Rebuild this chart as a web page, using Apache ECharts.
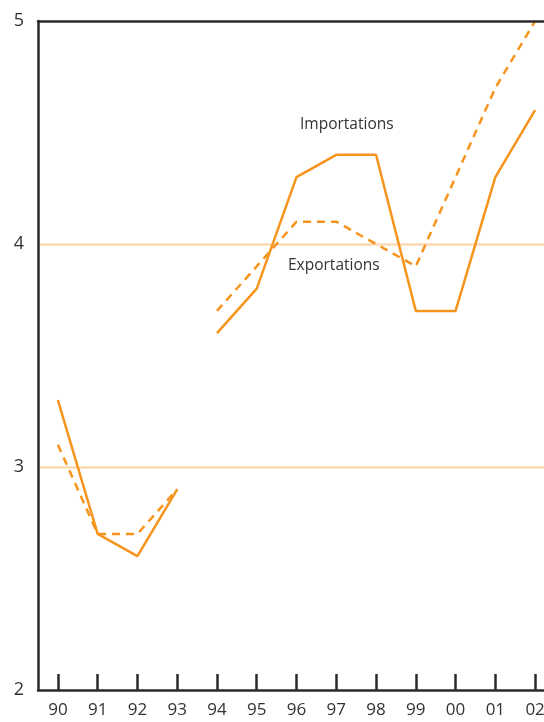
<!DOCTYPE html>
<html>
<head>
<meta charset="utf-8">
<script src="https://cdn.jsdelivr.net/npm/echarts@6/dist/echarts.min.js"></script>
<style>
html,body{margin:0;padding:0;background:#fff;overflow:hidden;width:544px;height:722px;}
#chart{width:555px;height:722px;}
</style>
</head>
<body>
<div id="chart"></div>
<script>
const years = ['90','91','92','93','94','95','96','97','98','99','00','01','02'];
const importations = [3.3, 2.7, 2.6, 2.9, 3.6, 3.8, 4.3, 4.4, 4.4, 3.7, 3.7, 4.3, 4.6];
const exportations = [3.1, 2.7, 2.7, 2.9, 3.7, 3.9, 4.1, 4.1, 4.0, 3.9, 4.3, 4.7, 5.0];
const yTicks = [2, 3, 4, 5];
const gridValues = [3, 4];
const breakIndex = 4; // series is broken between '93' and '94'

const ORANGE = '#f7941d';
const FONT = 'Open Sans';

function segment(arr, start, end) {
  return arr.map((v, i) => (i >= start && i < end ? v : null));
}

const chart = echarts.init(document.getElementById('chart'), null, {renderer: 'canvas'});

const series = [];
[[0, breakIndex], [breakIndex, years.length]].forEach(([s, e], k) => {
  series.push({
    name: 'Importations',
    type: 'line',
    data: segment(importations, s, e),
    symbol: 'none',
    connectNulls: false,
    lineStyle: {color: ORANGE, width: 2.5, type: 'solid'},
    z: 5,
    markLine: k === 0 ? {
      silent: true,
      symbol: 'none',
      label: {show: false},
      lineStyle: {color: '#fddab2', width: 2.5, type: 'solid'},
      data: gridValues.map(v => ({yAxis: v})),
      z: 1
    } : undefined
  });
  series.push({
    name: 'Exportations',
    type: 'line',
    data: segment(exportations, s, e),
    symbol: 'none',
    connectNulls: false,
    lineStyle: {color: ORANGE, width: 2.5, type: [8, 6]},
    z: 5
  });
});

chart.setOption({
  animation: false,
  backgroundColor: '#fff',
  textStyle: {fontFamily: FONT},
  grid: {left: 38, top: 21, right: 0, bottom: 32, containLabel: false},
  xAxis: [{
    type: 'category',
    data: years,
    position: 'bottom',
    boundaryGap: true,
    axisLine: {show: true, lineStyle: {color: '#2b2b2b', width: 2.5}},
    axisTick: {show: true, inside: true, length: 16, alignWithLabel: true, lineStyle: {color: '#2b2b2b', width: 2.5}},
    axisLabel: {color: '#333', fontSize: 17, fontFamily: FONT, margin: 12, interval: 0},
    splitLine: {show: false},
    z: 10
  }, {
    type: 'category',
    data: years,
    position: 'top',
    axisLine: {show: true, lineStyle: {color: '#2b2b2b', width: 2.5}},
    axisTick: {show: false},
    axisLabel: {show: false},
    splitLine: {show: false},
    z: 10
  }],
  yAxis: {
    type: 'value',
    min: yTicks[0],
    max: yTicks[yTicks.length - 1],
    interval: 1,
    axisLine: {show: true, lineStyle: {color: '#2b2b2b', width: 2.5}},
    axisTick: {show: false},
    axisLabel: {color: '#333', fontSize: 18, fontFamily: FONT, margin: 14},
    splitLine: {show: false},
    z: 10
  },
  graphic: [
    {type: 'text', left: 300, top: 117, style: {text: 'Importations', fill: '#333', font: '15.5px "Open Sans"'}},
    {type: 'text', left: 288, top: 258, style: {text: 'Exportations', fill: '#333', font: '15.5px "Open Sans"'}}
  ],
  series: series
});
</script>
</body>
</html>
